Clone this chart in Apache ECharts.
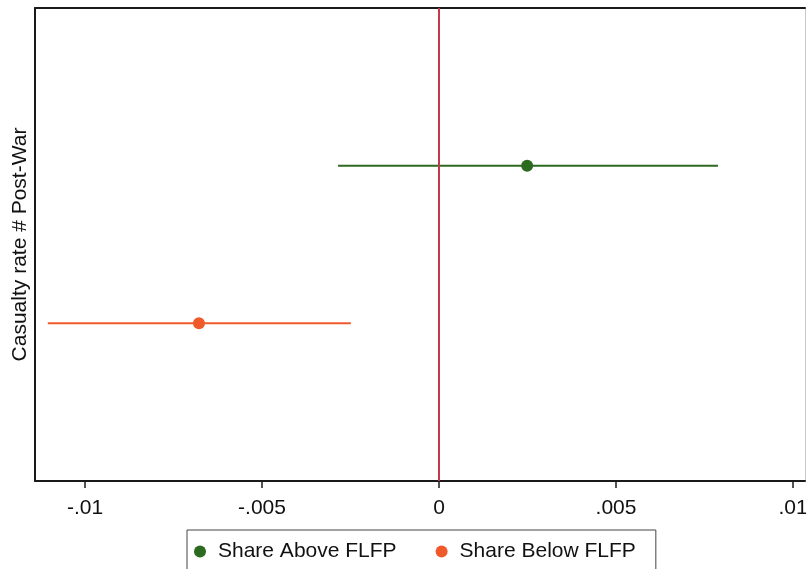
<!DOCTYPE html>
<html>
<head>
<meta charset="utf-8">
<script src="https://cdn.jsdelivr.net/npm/echarts@6/dist/echarts.min.js"></script>
<style>html,body{margin:0;padding:0;background:#fff;overflow:hidden}#c{width:806px;height:569px}</style>
</head>
<body>
<div id="c"></div>
<script>
const seriesNames = ['Share Above FLFP', 'Share Below FLFP'];
const estimates = [0.00249, -0.00678];
const ciLow = [-0.00285, -0.01105];
const ciHigh = [0.00788, -0.00249];
const rowPos = [2, 1];
const xTicks = [-0.01, -0.005, 0, 0.005, 0.01];
const xTickLabels = ['-.01', '-.005', '0', '.005', '.01'];
const colors = ['#2b6a1f', '#f05a2a'];

const chart = echarts.init(document.getElementById('c'), null, {renderer: 'canvas'});
const font = 'Liberation Sans, Arial, Helvetica, sans-serif';

const series = [];
seriesNames.forEach((n, i) => {
  series.push({
    name: n + ' CI', type: 'line', xAxisIndex: 0, yAxisIndex: 0,
    data: [[ciLow[i], rowPos[i]], [ciHigh[i], rowPos[i]]],
    symbol: 'none', lineStyle: {color: colors[i], width: 2}, silent: true, z: 3
  });
});
seriesNames.forEach((n, i) => {
  series.push({
    name: n, type: 'scatter', xAxisIndex: 0, yAxisIndex: 0,
    data: [[estimates[i], rowPos[i]]], symbol: 'circle', symbolSize: 12,
    itemStyle: {color: colors[i], opacity: 1}, z: 4
  });
});
series[0].markLine = {
  silent: true, symbol: 'none', label: {show: false},
  lineStyle: {color: '#c0394e', width: 2, type: 'solid'},
  data: [{xAxis: 0}], z: 5
};

chart.setOption({
  animation: false,
  backgroundColor: '#fff',
  grid: {left: 35, right: 1, top: 8, bottom: 88, containLabel: false, outerBoundsMode: 'none'},
  xAxis: [{
    type: 'value', min: -0.011412, max: 0.010339, position: 'bottom',
    axisLine: {show: true, onZero: false, lineStyle: {color: '#1a1a1a', width: 2}},
    axisTick: {show: true, length: 7, customValues: xTicks, lineStyle: {color: '#1a1a1a', width: 1.5}},
    axisLabel: {show: true, customValues: xTicks, margin: 17, fontSize: 21, color: '#111', fontFamily: font,
      hideOverlap: false,
      formatter: v => { const k = xTicks.findIndex(t => Math.abs(t - v) < 1e-9); return k >= 0 ? xTickLabels[k] : ''; }},
    splitLine: {show: false}
  }, {
    type: 'value', min: -0.011412, max: 0.010339, position: 'top',
    axisLine: {show: true, onZero: false, lineStyle: {color: '#1a1a1a', width: 2}},
    axisTick: {show: false}, axisLabel: {show: false}, splitLine: {show: false}
  }],
  yAxis: [{
    type: 'value', min: 0, max: 3, position: 'left',
    name: 'Casualty rate # Post-War', nameLocation: 'middle', nameGap: 4,
    nameTextStyle: {fontSize: 21, color: '#111', fontFamily: font},
    axisLine: {show: true, onZero: false, lineStyle: {color: '#1a1a1a', width: 2}},
    axisTick: {show: false}, axisLabel: {show: false}, splitLine: {show: false}
  }, {
    type: 'value', min: 0, max: 3, position: 'right',
    axisLine: {show: true, onZero: false, lineStyle: {color: '#c8c8c8', width: 1}},
    axisTick: {show: false}, axisLabel: {show: false}, splitLine: {show: false}
  }],
  legend: {
    data: seriesNames.map(n => ({name: n, icon: 'circle'})),
    left: 187, top: 530, orient: 'horizontal',
    itemWidth: 12, itemHeight: 12, itemGap: 39,
    borderColor: '#444', borderWidth: 1, padding: [11, 20, 12, 7],
    textStyle: {fontSize: 21, color: '#111', fontFamily: font, padding: [0, 0, 0, 7]}
  },
  series: series
});
</script>
</body>
</html>
